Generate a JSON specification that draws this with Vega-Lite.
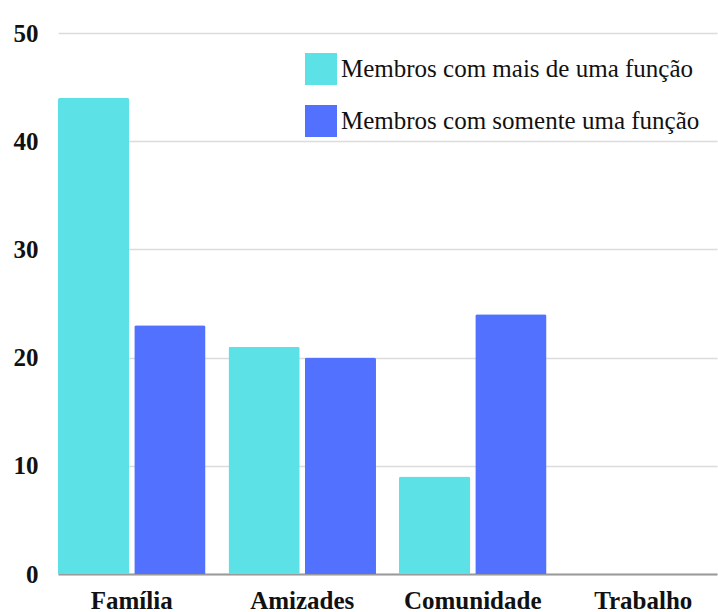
{
  "$schema": "https://vega.github.io/schema/vega-lite/v6.json",
  "width": 659,
  "height": 541,
  "autosize": {"type": "none"},
  "padding": {"left": 58, "top": 33, "right": 1, "bottom": 38},
  "background": "white",
  "config": {
    "view": {"stroke": null},
    "font": "Liberation Serif"
  },
  "data": {
    "values": [
      {"categoria": "Família", "grupo": "Membros com mais de uma função", "valor": 44},
      {"categoria": "Família", "grupo": "Membros com somente uma função", "valor": 23},
      {"categoria": "Amizades", "grupo": "Membros com mais de uma função", "valor": 21},
      {"categoria": "Amizades", "grupo": "Membros com somente uma função", "valor": 20},
      {"categoria": "Comunidade", "grupo": "Membros com mais de uma função", "valor": 9},
      {"categoria": "Comunidade", "grupo": "Membros com somente uma função", "valor": 24},
      {"categoria": "Trabalho", "grupo": "Membros com mais de uma função", "valor": 0},
      {"categoria": "Trabalho", "grupo": "Membros com somente uma função", "valor": 0}
    ]
  },
  "mark": {"type": "bar", "cornerRadiusTopLeft": 2, "cornerRadiusTopRight": 2},
  "encoding": {
    "x": {
      "field": "categoria",
      "type": "nominal",
      "sort": ["Família", "Amizades", "Comunidade", "Trabalho"],
      "scale": {"paddingInner": 0.135, "paddingOuter": 0, "align": 0},
      "axis": {
        "title": null,
        "labelAngle": 0,
        "labelFont": "Liberation Serif",
        "labelFontWeight": "bold",
        "labelFontSize": 25,
        "labelColor": "#111111",
        "labelPadding": 14,
        "ticks": false,
        "domain": true,
        "domainColor": "#9a9a9a",
        "domainWidth": 2
      }
    },
    "xOffset": {
      "field": "grupo",
      "type": "nominal",
      "scale": {"paddingInner": 0.066, "paddingOuter": 0}
    },
    "y": {
      "field": "valor",
      "type": "quantitative",
      "scale": {"domain": [0, 50], "nice": false},
      "axis": {
        "title": null,
        "values": [0, 10, 20, 30, 40, 50],
        "labelFont": "Liberation Serif",
        "labelFontWeight": "bold",
        "labelFontSize": 25,
        "labelColor": "#111111",
        "labelPadding": 20,
        "ticks": false,
        "domain": false,
        "grid": true,
        "gridColor": "#dcdcdc",
        "gridWidth": 1.5
      }
    },
    "color": {
      "field": "grupo",
      "type": "nominal",
      "scale": {
        "domain": ["Membros com mais de uma função", "Membros com somente uma função"],
        "range": ["#5ce1e6", "#5271ff"]
      },
      "legend": {
        "title": null,
        "orient": "none",
        "legendX": 247,
        "legendY": 20,
        "symbolType": "square",
        "symbolSize": 1024,
        "symbolStrokeWidth": 0,
        "rowPadding": 20,
        "labelFont": "Liberation Serif",
        "labelFontSize": 25,
        "labelColor": "#111111",
        "labelOffset": 4,
        "labelLimit": 420,
        "fillColor": "white"
      }
    }
  }
}
